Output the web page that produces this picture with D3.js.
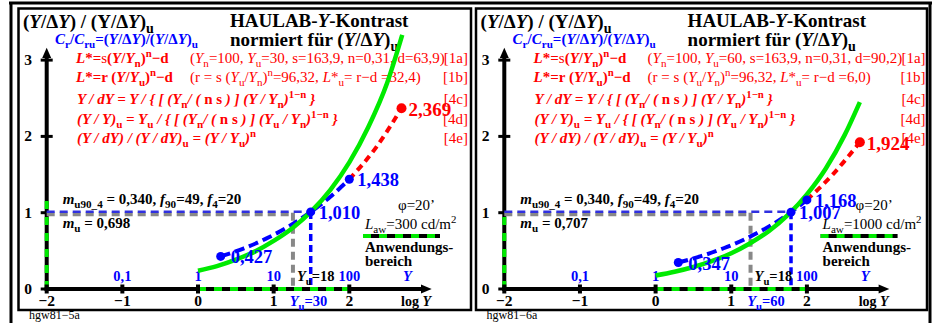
<!DOCTYPE html>
<html><head><meta charset="utf-8">
<script src="https://cdn.jsdelivr.net/npm/d3@7"></script>
<style>html,body{margin:0;padding:0;background:#fff}svg{display:block}text{white-space:pre}</style>
</head><body>
<svg id="c" width="935" height="323"></svg>
<script>
// ---------- data ----------
const logTicks = [-2, -1, 0, 1, 2];
const logTickLabels = ["−2", "−1", "0", "1", "2"];
const valTicks = [0, 1, 2, 3];
const valTickLabels = ["0", "1", "2", "3"];
const linTickLogs = [-1, 0, 1, 2];
const linTickLabels = ["0,1", "1", "10", "100"];

const panelNames = ["hgw81−5a", "hgw81−6a"];
const panelYu = ["30", "60"];
const panelD = ["63,9", "90,2"];
const panelLu = ["32,4", "6,0"];
const panelMu = ["0,698", "0,707"];
const panelLaw = ["300", "1000"];
const panelAxisGreenTop = [1.24, 1.0];

const greenLogY = [0, 0.25, 0.5, 0.75, 1.0, 1.25, 1.5, 1.75, 2.0, 2.25, 2.5, 2.7];
const greenLeft = [0.24, 0.30, 0.385, 0.49, 0.63, 0.80, 1.02, 1.30, 1.66, 2.12, 2.70, 3.33];
const greenRight = [0.177, 0.226, 0.288, 0.368, 0.469, 0.60, 0.76, 0.97, 1.24, 1.58, 2.02, 2.45];

const blueLogLeft = [0.30, 0.6, 0.9, 1.2, 1.49, 1.75, 2.0];
const blueLeft = [0.427, 0.53, 0.66, 0.82, 1.010, 1.21, 1.438];
const blueLogRight = [0.30, 0.6, 0.9, 1.2, 1.5, 1.79, 2.0];
const blueRight = [0.347, 0.43, 0.534, 0.662, 0.82, 1.007, 1.168];

const redLogLeft = [2.0, 2.35, 2.69];
const redLeft = [1.438, 1.85, 2.369];
const redLogRight = [2.0, 2.35, 2.7];
const redRight = [1.168, 1.51, 1.924];

const bluePtLogLeft = [0.30, 1.49, 2.0];
const bluePtLeft = [0.427, 1.010, 1.438];
const bluePtLblLeft = ["0,427", "1,010", "1,438"];
const bluePtLogRight = [0.30, 1.79, 2.0];
const bluePtRight = [0.347, 1.007, 1.168];
const bluePtLblRight = ["0,347", "1,007", "1,168"];
const redPtLog = [2.69, 2.7];
const redPtVal = [2.369, 1.924];
const redPtLbl = ["2,369", "1,924"];
const greyLog = [1.255, 1.255];

// ---------- drawing ----------
const svg = d3.select("#c");
svg.append("rect").attr("width", 935).attr("height", 323).attr("fill", "#fff");
const FONT = "'Liberation Serif','Times New Roman',Times,serif";
const RED = "#ff0000", BLUE = "#0000ff", GREEN = "#00ea00", GREY = "#888888";

function rich(sel, x, y, str, o) {
  const t = sel.append("text").attr("x", x).attr("y", y)
    .attr("font-family", FONT).attr("font-size", o.size)
    .attr("font-weight", o.weight || "normal").attr("font-style", o.style || "normal")
    .attr("fill", o.fill || "#000").attr("text-anchor", o.anchor || "start");
  const re = /([_^~#%|]+)⟨([^⟩]*)⟩|([^_^~#%|⟨⟩]+)/g;
  let m, off = 0;
  while ((m = re.exec(str))) {
    const flags = m[1] || "";
    const txt = m[2] !== undefined ? m[2] : m[3];
    const ts = t.append("tspan").text(txt);
    let target = 0;
    if (flags.includes("_")) { target = o.size * 0.26; ts.attr("font-size", o.size * 0.74); }
    if (flags.includes("^")) { target = -o.size * 0.42; ts.attr("font-size", o.size * 0.72); }
    if (flags.includes("~")) ts.attr("font-style", "italic");
    if (flags.includes("|")) ts.attr("font-style", "normal");
    if (flags.includes("#")) ts.attr("font-weight", "bold");
    if (flags.includes("%")) ts.attr("font-weight", "normal");
    if (target !== off) ts.attr("dy", target - off);
    off = target;
  }
  return t;
}

// frames
const frame = svg.append("g").attr("fill", "none").attr("stroke", "#000");
frame.append("line").attr("x1", 9).attr("x2", 932).attr("y1", 3).attr("y2", 3).attr("stroke-width", 3);
frame.append("line").attr("x1", 11).attr("x2", 11).attr("y1", 2).attr("y2", 323).attr("stroke-width", 3);
frame.append("line").attr("x1", 930).attr("x2", 930).attr("y1", 2).attr("y2", 323).attr("stroke-width", 3);
frame.append("rect").attr("x", 18.5).attr("y", 8.5).attr("width", 452.5).attr("height", 301.5).attr("stroke-width", 2.5);
frame.append("rect").attr("x", 476).attr("y", 8.5).attr("width", 451).attr("height", 301.5).attr("stroke-width", 2.5);

const panelDx = [0, 457.6];
const greens = [greenLeft, greenRight];
const blueLogs = [blueLogLeft, blueLogRight], blues = [blueLeft, blueRight];
const redLogs = [redLogLeft, redLogRight], reds = [redLeft, redRight];
const bpLogs = [bluePtLogLeft, bluePtLogRight], bpVals = [bluePtLeft, bluePtRight], bpLbls = [bluePtLblLeft, bluePtLblRight];

for (let p = 0; p < 2; p++) {
  const g = svg.append("g").attr("transform", `translate(${panelDx[p]},0)`);
  const x = d3.scaleLinear().domain([-2, 2]).range([46.7, 349.3]);
  const y = d3.scaleLinear().domain([0, 3]).range([289, 60.1]);
  const x0 = x(-2), y0 = y(0);

  // texts top
  rich(g, 23, 28, "(~⟨Y⟩/Δ~⟨Y⟩) / (Y/Δ~⟨Y⟩)_⟨u⟩", {size: 19, weight: "bold"});
  rich(g, 230, 27, "HAULAB-~⟨Y⟩-Kontrast", {size: 19, weight: "bold"});
  rich(g, 230, 46, "normiert für (~⟨Y⟩/Δ~⟨Y⟩)_⟨u⟩", {size: 19, weight: "bold"});
  rich(g, 55, 44, "~⟨C⟩_⟨r⟩/~⟨C⟩_⟨ru⟩=(~⟨Y⟩/Δ~⟨Y⟩)/(~⟨Y⟩/Δ~⟨Y⟩)_⟨u⟩", {size: 15, weight: "bold", fill: BLUE});

  rich(g, 76, 63, "~⟨L⟩*=%⟨s⟩(~⟨Y⟩/~⟨Y⟩_⟨n⟩)^⟨n⟩−d", {size: 15, weight: "bold", fill: RED});
  rich(g, 190, 63, `(~⟨Y⟩_⟨n⟩=100, ~⟨Y⟩_⟨u⟩=${panelYu[p]}, s=163,9, n=0,31, d=${panelD[p]})`, {size: 15, fill: RED});
  rich(g, 76, 82, "~⟨L⟩*=r (~⟨Y⟩/~⟨Y⟩_⟨u⟩)^⟨n⟩−d", {size: 15, weight: "bold", fill: RED});
  rich(g, 190, 82, `(r = s (~⟨Y⟩_⟨u⟩/~⟨Y⟩_⟨n⟩)^⟨n⟩=96,32, ~⟨L⟩*_⟨u⟩= r−d =${panelLu[p]})`, {size: 15, fill: RED});
  rich(g, 77, 104, "Y / dY = Y / { [ (Y_|⟨n⟩/ ( |⟨n s⟩ ) ] (Y / Y_|⟨n⟩)^|⟨1−n⟩ }", {size: 15, weight: "bold", style: "italic", fill: RED});
  rich(g, 77, 124, "(Y / Y)_|⟨u⟩ = Y_|⟨u⟩ / { [ (Y_|⟨n⟩/ ( |⟨n s⟩ ) ] (Y_|⟨u⟩ / Y_|⟨n⟩)^|⟨1−n⟩ }", {size: 15, weight: "bold", style: "italic", fill: RED});
  rich(g, 77, 143, "(Y / dY) / (Y / dY)_|⟨u⟩ = (Y / Y_|⟨u⟩)^|⟨n⟩", {size: 15, weight: "bold", style: "italic", fill: RED});
  const tags = ["[1a]", "[1b]", "[4c]", "[4d]", "[4e]"], tagY = [63, 82, 104, 124, 143];
  tags.forEach((t, i) => rich(g, 468, tagY[i], t, {size: 15, fill: RED, anchor: "end"}));

  // axes: y
  g.append("line").attr("x1", x0).attr("x2", x0).attr("y1", y0 + 2).attr("y2", 56).attr("stroke", "#000").attr("stroke-width", 4);
  g.append("path").attr("d", `M${x0},47.7 L${x0 - 4.5},58 L${x0 + 4.5},58 Z`).attr("fill", "#000");
  g.append("line").attr("x1", x0).attr("x2", x0).attr("y1", y0).attr("y2", y(panelAxisGreenTop[p]))
    .attr("stroke", GREEN).attr("stroke-width", 4).attr("stroke-dasharray", "8,8");
  valTicks.forEach((v, i) => {
    g.append("line").attr("x1", x0 - 6).attr("x2", x0 + 6).attr("y1", y(v)).attr("y2", y(v)).attr("stroke", "#000").attr("stroke-width", 3);
    rich(g, 28, y(v) + 5, valTickLabels[i], {size: 15.5, weight: "bold", anchor: "middle"});
  });
  // axes: x
  g.append("line").attr("x1", x0 - 2).attr("x2", 424).attr("y1", y0).attr("y2", y0).attr("stroke", "#000").attr("stroke-width", 4);
  g.append("path").attr("d", `M431.7,${y0} L421,${y0 - 4.5} L421,${y0 + 4.5} Z`).attr("fill", "#000");
  g.append("line").attr("x1", x(0)).attr("x2", x(2)).attr("y1", y0).attr("y2", y0)
    .attr("stroke", GREEN).attr("stroke-width", 4).attr("stroke-dasharray", "8,8");
  logTicks.forEach((v, i) => {
    g.append("line").attr("x1", x(v)).attr("x2", x(v)).attr("y1", y0 - 4.5).attr("y2", y0 + 4.5).attr("stroke", "#000").attr("stroke-width", 4);
    rich(g, x(v), 306, logTickLabels[i], {size: 15.5, weight: "bold", anchor: "middle"});
  });
  linTickLogs.forEach((v, i) => rich(g, x(v), 281, linTickLabels[i], {size: 14.5, weight: "bold", fill: BLUE, anchor: "middle"}));
  rich(g, x(2.77), 281, "Y", {size: 14.5, weight: "bold", style: "italic", fill: BLUE, anchor: "middle"});
  rich(g, 431, 306, "log ~⟨Y⟩", {size: 14, weight: "bold", anchor: "end"});

  // reference dashes
  const gx = x(greyLog[p]);
  const bpx = x(bpLogs[p][1]), bpy = y(bpVals[p][1]);
  g.append("line").attr("x1", x0).attr("x2", gx).attr("y1", y(1) + 1.5).attr("y2", y(1) + 1.5)
    .attr("stroke", GREY).attr("stroke-width", 4).attr("stroke-dasharray", "8,5");
  g.append("line").attr("x1", gx).attr("x2", gx).attr("y1", y(1)).attr("y2", y0)
    .attr("stroke", GREY).attr("stroke-width", 4).attr("stroke-dasharray", "8,5");
  g.append("line").attr("x1", x0).attr("x2", bpx).attr("y1", y(1) - 1).attr("y2", y(1) - 1)
    .attr("stroke", "#3030e0").attr("stroke-width", 2.5).attr("stroke-dasharray", "8,5");
  g.append("line").attr("x1", bpx).attr("x2", bpx).attr("y1", bpy).attr("y2", y0)
    .attr("stroke", BLUE).attr("stroke-width", 3.5).attr("stroke-dasharray", "7,4");

  rich(g, gx + 4, 281, "~⟨Y⟩_⟨u⟩=18", {size: 14.5, weight: "bold"});
  rich(g, x(1.46), 306, `~⟨Y⟩_⟨u⟩=${panelYu[p]}`, {size: 14.5, weight: "bold", fill: BLUE, anchor: "middle"});

  // curves
  const line = d3.line().x(d => x(d[0])).y(d => y(d[1])).curve(d3.curveMonotoneX);
  g.append("path").attr("d", line(blueLogs[p].map((l, i) => [l, blues[p][i]])))
    .attr("fill", "none").attr("stroke", BLUE).attr("stroke-width", 4).attr("stroke-dasharray", "10,5");
  g.append("path").attr("d", line(redLogs[p].map((l, i) => [l, reds[p][i]])))
    .attr("fill", "none").attr("stroke", RED).attr("stroke-width", 4).attr("stroke-dasharray", "7,5");
  g.append("path").attr("d", line(greenLogY.map((l, i) => [l, greens[p][i]])))
    .attr("fill", "none").attr("stroke", GREEN).attr("stroke-width", 4.5);

  // points
  bpLogs[p].forEach((l, i) => {
    g.append("circle").attr("cx", x(l)).attr("cy", y(bpVals[p][i])).attr("r", 4.5).attr("fill", BLUE);
  });
  g.append("circle").attr("cx", x(redPtLog[p])).attr("cy", y(redPtVal[p])).attr("r", 5).attr("fill", RED);
  bpLogs[p].forEach((l, i) => {
    const dx = i === 0 ? 10 : 8;
    rich(g, x(l) + dx, y(bpVals[p][i]) + 7, bpLbls[p][i], {size: 18.5, weight: "bold", fill: BLUE});
  });
  rich(g, x(redPtLog[p]) + 7, y(redPtVal[p]) + 8, redPtLbl[p], {size: 19, weight: "bold", fill: RED});

  // notes
  rich(g, 62.7, 204, "~⟨m⟩_⟨u90_4⟩ = 0,340, ~⟨f⟩_⟨90⟩=49, ~⟨f⟩_⟨4⟩=20", {size: 15, weight: "bold"});
  rich(g, 62.7, 228, `~⟨m⟩_⟨u⟩ = ${panelMu[p]}`, {size: 15, weight: "bold"});
  rich(g, 398, 210, "φ=20’", {size: 15});
  rich(g, 365, 229, `~⟨L⟩_⟨aw⟩=${panelLaw[p]} cd/m^⟨2⟩`, {size: 15});
  g.append("line").attr("x1", 363).attr("x2", 440).attr("y1", 236).attr("y2", 236).attr("stroke", "#000").attr("stroke-width", 4);
  g.append("line").attr("x1", 363).attr("x2", 440).attr("y1", 236).attr("y2", 236).attr("stroke", GREEN).attr("stroke-width", 4).attr("stroke-dasharray", "8,8");
  rich(g, 365, 252, "Anwendungs-", {size: 15, weight: "bold"});
  rich(g, 365, 266, "bereich", {size: 15, weight: "bold"});
  rich(g, 29, 319, panelNames[p], {size: 12});
}
</script>
</body></html>
